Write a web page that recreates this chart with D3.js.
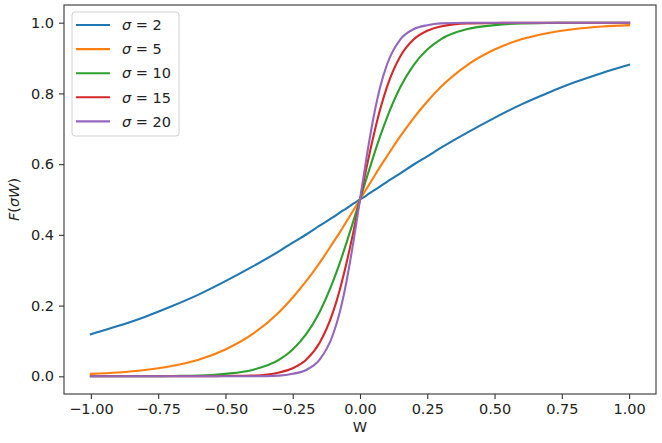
<!DOCTYPE html>
<html>
<head>
<meta charset="utf-8">
<script src="https://cdn.jsdelivr.net/npm/d3@7"></script>
<style>
  body { margin: 0; background: #fff; }
  svg text { font-family: "DejaVu Sans", sans-serif; }
</style>
</head>
<body>
<script>
// sample positions along W
var wValues = [-1, -0.9, -0.8, -0.7, -0.6, -0.5, -0.4, -0.3, -0.25, -0.2, -0.15, -0.1, -0.075, -0.05, -0.025,
  0, 0.025, 0.05, 0.075, 0.1, 0.15, 0.2, 0.25, 0.3, 0.4, 0.5, 0.6, 0.7, 0.8, 0.9, 1];

var sigmas = [2, 5, 10, 15, 20];
var colors = ['#1f77b4', '#ff7f0e', '#2ca02c', '#d62728', '#9467bd'];

var f2 = [0.119, 0.142, 0.168, 0.198, 0.231, 0.269, 0.310, 0.354, 0.378, 0.401, 0.426, 0.450, 0.463, 0.475, 0.488,
  0.5, 0.512, 0.525, 0.537, 0.550, 0.574, 0.599, 0.622, 0.646, 0.690, 0.731, 0.769, 0.802, 0.832, 0.858, 0.881];
var f5 = [0.007, 0.011, 0.018, 0.029, 0.047, 0.076, 0.119, 0.182, 0.223, 0.269, 0.321, 0.378, 0.407, 0.438, 0.469,
  0.5, 0.531, 0.562, 0.593, 0.622, 0.679, 0.731, 0.777, 0.818, 0.881, 0.924, 0.953, 0.971, 0.982, 0.989, 0.993];
var f10 = [0.000, 0.000, 0.000, 0.001, 0.002, 0.007, 0.018, 0.047, 0.076, 0.119, 0.182, 0.269, 0.321, 0.378, 0.438,
  0.5, 0.562, 0.622, 0.679, 0.731, 0.818, 0.881, 0.924, 0.953, 0.982, 0.993, 0.998, 0.999, 1.000, 1.000, 1.000];
var f15 = [0.000, 0.000, 0.000, 0.000, 0.000, 0.001, 0.002, 0.011, 0.023, 0.047, 0.095, 0.182, 0.245, 0.321, 0.407,
  0.5, 0.593, 0.679, 0.755, 0.818, 0.905, 0.953, 0.977, 0.989, 0.998, 0.999, 1.000, 1.000, 1.000, 1.000, 1.000];
var f20 = [0.000, 0.000, 0.000, 0.000, 0.000, 0.000, 0.000, 0.002, 0.007, 0.018, 0.047, 0.119, 0.182, 0.269, 0.378,
  0.5, 0.622, 0.731, 0.818, 0.881, 0.953, 0.982, 0.993, 0.998, 1.000, 1.000, 1.000, 1.000, 1.000, 1.000, 1.000];
var series = [f2, f5, f10, f15, f20];

var xTicks = [-1, -0.75, -0.5, -0.25, 0, 0.25, 0.5, 0.75, 1];
var yTicks = [0, 0.2, 0.4, 0.6, 0.8, 1.0];

var margin = { top: 5, right: 6, bottom: 49, left: 64 },
    width = 662 - margin.left - margin.right,
    height = 443 - margin.top - margin.bottom;

var svg = d3.select('body').append('svg')
  .attr('width', 662)
  .attr('height', 443);

var g = svg.append('g')
  .attr('transform', 'translate(' + margin.left + ',' + margin.top + ')');

var x = d3.scaleLinear().domain([-1.1, 1.1]).range([0, width]);
var y = d3.scaleLinear().domain([-0.05, 1.05]).range([height, 0]);

var line = d3.line()
  .x(function(d, i) { return x(wValues[i]); })
  .y(function(d) { return y(d); })
  .curve(d3.curveMonotoneX);

series.forEach(function(s, k) {
  g.append('path')
    .datum(s)
    .attr('d', line)
    .attr('fill', 'none')
    .attr('stroke', colors[k])
    .attr('stroke-width', 2.1)
    .attr('stroke-linecap', 'square');
});

var xAxis = g.append('g')
  .attr('transform', 'translate(0,' + height + ')')
  .call(d3.axisBottom(x).tickValues(xTicks).tickSize(5).tickPadding(5)
    .tickFormat(function(d) { return d3.format('.2f')(d).replace('-', '\u2212'); }));

var yAxis = g.append('g')
  .call(d3.axisLeft(y).tickValues(yTicks).tickSize(5).tickPadding(5)
    .tickFormat(d3.format('.1f')));

[xAxis, yAxis].forEach(function(a) {
  a.select('.domain').remove();
  a.selectAll('line').attr('stroke', '#333').attr('stroke-width', 1.1);
  a.selectAll('text').attr('fill', '#222').style('font-size', '14.5px')
    .style('font-family', '"DejaVu Sans", sans-serif');
});

g.append('rect')
  .attr('width', width)
  .attr('height', height)
  .attr('fill', 'none')
  .attr('stroke', '#333')
  .attr('stroke-width', 1.1);

// axis labels
svg.append('text')
  .attr('x', margin.left + width / 2)
  .attr('y', 432)
  .attr('text-anchor', 'middle')
  .style('font-size', '14.5px')
  .attr('fill', '#222')
  .text('W');

var yl = svg.append('text')
  .attr('transform', 'translate(19,' + (margin.top + height / 2) + ') rotate(-90)')
  .attr('text-anchor', 'middle')
  .style('font-size', '14.5px')
  .attr('fill', '#222');
yl.append('tspan').style('font-style', 'italic').text('F');
yl.append('tspan').text('(');
yl.append('tspan').style('font-style', 'italic').text('\u03c3W');
yl.append('tspan').text(')');

// legend
var legend = g.append('g').attr('transform', 'translate(8,7)');

legend.append('rect')
  .attr('width', 107)
  .attr('height', 124)
  .attr('rx', 3)
  .attr('fill', '#fff')
  .attr('fill-opacity', 0.8)
  .attr('stroke', '#d0d0d0');

var items = legend.selectAll('.item')
  .data(sigmas)
  .enter()
  .append('g')
  .attr('class', 'item')
  .attr('transform', function(d, i) { return 'translate(0,' + (13 + i * 24.1) + ')'; });

items.append('line')
  .attr('x1', 4).attr('x2', 38)
  .attr('stroke', function(d, i) { return colors[i]; })
  .attr('stroke-width', 2.1);

var lt = items.append('text')
  .attr('x', 50)
  .attr('dy', '0.36em')
  .style('font-size', '14.5px')
  .attr('fill', '#222');
lt.append('tspan').style('font-style', 'italic').text('\u03c3');
lt.append('tspan').text(function(d) { return ' = ' + d; });
</script>
</body>
</html>
